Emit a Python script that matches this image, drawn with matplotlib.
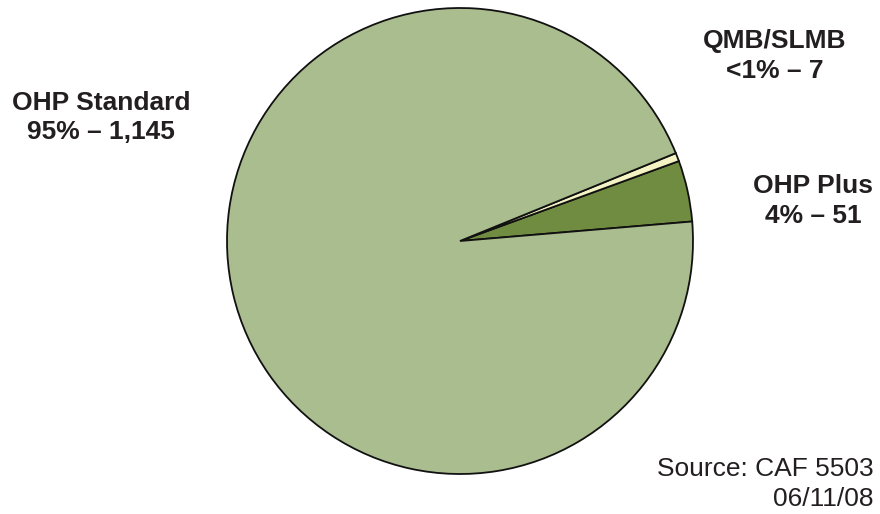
import matplotlib.pyplot as plt

# data
labels = ['OHP Plus', 'QMB/SLMB', 'OHP Standard']
counts = [51, 7, 1145]
label_text = ['OHP Plus\n4% \u2013 51', 'QMB/SLMB\n<1% \u2013 7', 'OHP Standard\n95% \u2013 1,145']
colors = ['#6F8C40', '#F3F3C4', '#AABD8F']

plt.rcParams['font.family'] = ['Liberation Sans', 'DejaVu Sans']

fig = plt.figure(figsize=(8.8, 5.14), dpi=100)
ax = fig.add_axes([0, 0, 1, 1])

ax.pie(counts, colors=colors, startangle=4.8, counterclock=True,
       center=(460, 273), radius=233, frame=True,
       wedgeprops=dict(edgecolor='#111111', linewidth=1.3))
ax.set_xlim(0, 880)
ax.set_ylim(0, 514)
ax.set_aspect('equal')
ax.axis('off')

# labels
txt = dict(ha='center', va='center', fontsize=19, fontweight='bold',
           color='#231f20', linespacing=1.28)
ax.text(813, 313, label_text[0], **txt)
ax.text(775, 458, label_text[1], **txt)
ax.text(101, 396.5, label_text[2], **txt)

ax.text(874, 30, 'Source: CAF 5503\n06/11/08', ha='right', va='center',
        fontsize=19, color='#231f20', linespacing=1.33)

fig.savefig('out.png', dpi=100)
